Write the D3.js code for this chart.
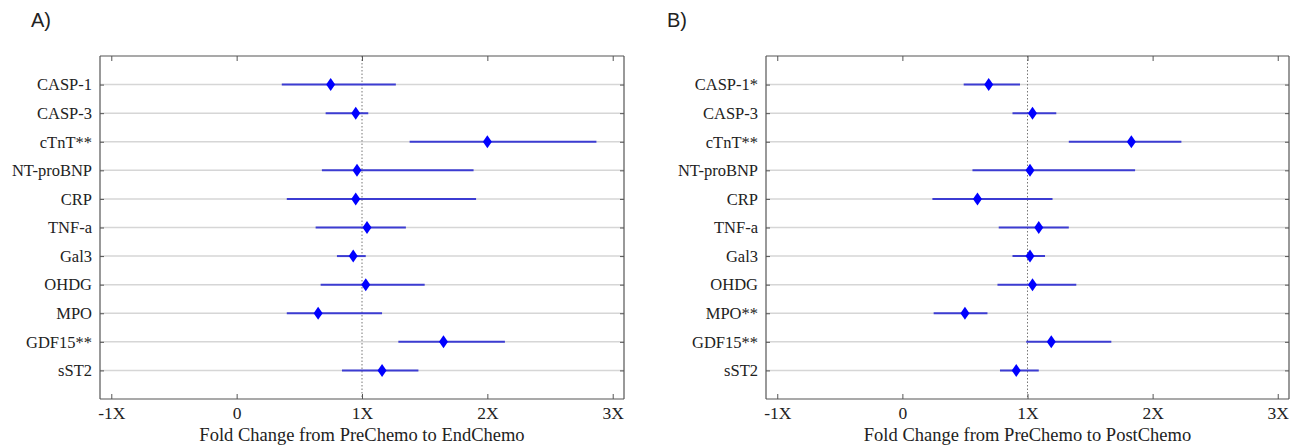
<!DOCTYPE html>
<html>
<head>
<meta charset="utf-8">
<script src="https://cdn.jsdelivr.net/npm/d3@7"></script>
<style>
  body { margin: 0; background: #fff; }
  svg text { font-family: "Liberation Serif", "Times New Roman", serif; fill: #222; }
</style>
</head>
<body>
<div id="chart"></div>
<script>
// biomarkers, top to bottom
const labelsA = ["CASP-1", "CASP-3", "cTnT**", "NT-proBNP", "CRP", "TNF-a", "Gal3", "OHDG", "MPO", "GDF15**", "sST2"];
const labelsB = ["CASP-1*", "CASP-3", "cTnT**", "NT-proBNP", "CRP", "TNF-a", "Gal3", "OHDG", "MPO**", "GDF15**", "sST2"];

// A) PreChemo -> EndChemo
const endMean = [0.75, 0.95, 2.0, 0.96, 0.95, 1.04, 0.93, 1.03, 0.65, 1.65, 1.16];
const endLo   = [0.36, 0.71, 1.38, 0.68, 0.40, 0.63, 0.80, 0.67, 0.40, 1.29, 0.84];
const endHi   = [1.27, 1.05, 2.87, 1.89, 1.91, 1.35, 1.03, 1.50, 1.16, 2.14, 1.45];

// B) PreChemo -> PostChemo
const postMean = [0.69, 1.04, 1.83, 1.02, 0.60, 1.09, 1.02, 1.04, 0.50, 1.19, 0.91];
const postLo   = [0.49, 0.88, 1.33, 0.56, 0.24, 0.77, 0.88, 0.76, 0.25, 0.99, 0.78];
const postHi   = [0.94, 1.23, 2.23, 1.86, 1.20, 1.33, 1.14, 1.39, 0.68, 1.67, 1.09];

const tickVals = [-1, 0, 1, 2, 3];
const tickLabels = ["-1X", "0", "1X", "2X", "3X"];

const svg = d3.select("#chart").append("svg")
    .attr("width", 1296)
    .attr("height", 445);

function panel(opts) {
    const x = d3.scaleLinear().domain([-1.09, 3.09]).range([opts.left, opts.right]);
    const y = d3.scalePoint().domain(d3.range(opts.labels.length)).range([56, 399]).padding(1);

    const g = svg.append("g");

    // light horizontal grid at every row
    g.selectAll(".grid")
        .data(opts.labels)
        .join("line")
        .attr("x1", opts.left).attr("x2", opts.right)
        .attr("y1", (d, i) => y(i)).attr("y2", (d, i) => y(i))
        .attr("stroke", "#d6d6d6")
        .attr("stroke-width", 1.5);

    // reference line at 1X
    g.append("line")
        .attr("x1", x(1)).attr("x2", x(1))
        .attr("y1", 56).attr("y2", 399)
        .attr("stroke", "#777")
        .attr("stroke-width", 1)
        .attr("stroke-dasharray", "1.5,2");

    const fmt = d => tickLabels[tickVals.indexOf(d)];

    const bottom = g.append("g")
        .attr("transform", "translate(0,399)")
        .call(d3.axisBottom(x).tickValues(tickVals).tickFormat(fmt).tickSizeInner(-5).tickSizeOuter(0).tickPadding(8));
    const top = g.append("g")
        .attr("transform", "translate(0,56)")
        .call(d3.axisTop(x).tickValues(tickVals).tickFormat("").tickSizeInner(-5).tickSizeOuter(0));
    const left = g.append("g")
        .attr("transform", `translate(${opts.left},0)`)
        .call(d3.axisLeft(y).tickFormat(i => opts.labels[i]).tickSizeInner(-4).tickSizeOuter(0).tickPadding(8));
    const right = g.append("g")
        .attr("transform", `translate(${opts.right},0)`)
        .call(d3.axisRight(y).tickFormat("").tickSizeInner(-4).tickSizeOuter(0));

    [bottom, top, left, right].forEach(a => {
        a.select(".domain").attr("stroke", "#555").attr("stroke-width", 1.2);
        a.selectAll(".tick line").attr("stroke", "#555");
        a.selectAll("text").attr("font-family", "Liberation Serif, serif").attr("font-size", 16.5).attr("fill", "#222");
    });
    bottom.selectAll("text").attr("font-size", 17.5);
    top.select(".domain").attr("d", `M${opts.left},0H${opts.right}`);
    bottom.select(".domain").attr("d", `M${opts.left},0H${opts.right}`);
    left.select(".domain").attr("d", "M0,56V399");
    right.select(".domain").attr("d", "M0,56V399");

    // confidence intervals
    g.selectAll(".ci")
        .data(opts.mean)
        .join("line")
        .attr("x1", (d, i) => x(opts.lo[i]))
        .attr("x2", (d, i) => x(opts.hi[i]))
        .attr("y1", (d, i) => y(i)).attr("y2", (d, i) => y(i))
        .attr("stroke", "#3c3cd2")
        .attr("stroke-width", 2);

    // diamond markers
    g.selectAll(".pt")
        .data(opts.mean)
        .join("path")
        .attr("transform", (d, i) => `translate(${x(d)},${y(i)})`)
        .attr("d", "M0,-6.5L4.5,0L0,6.5L-4.5,0Z")
        .attr("fill", "#0000ff");

    g.append("text")
        .attr("x", (opts.left + opts.right) / 2)
        .attr("y", 441)
        .attr("text-anchor", "middle")
        .attr("font-size", 18.5)
        .text(opts.title);

    svg.append("text")
        .attr("x", opts.tagX)
        .attr("y", 27)
        .attr("font-size", 20)
        .style("font-family", "Liberation Sans, Arial, sans-serif")
        .text(opts.tag);
}

panel({
    left: 100, right: 624, labels: labelsA,
    mean: endMean, lo: endLo, hi: endHi,
    title: "Fold Change from PreChemo to EndChemo",
    tag: "A)", tagX: 31
});

panel({
    left: 766, right: 1289, labels: labelsB,
    mean: postMean, lo: postLo, hi: postHi,
    title: "Fold Change from PreChemo to PostChemo",
    tag: "B)", tagX: 667
});
</script>
</body>
</html>
